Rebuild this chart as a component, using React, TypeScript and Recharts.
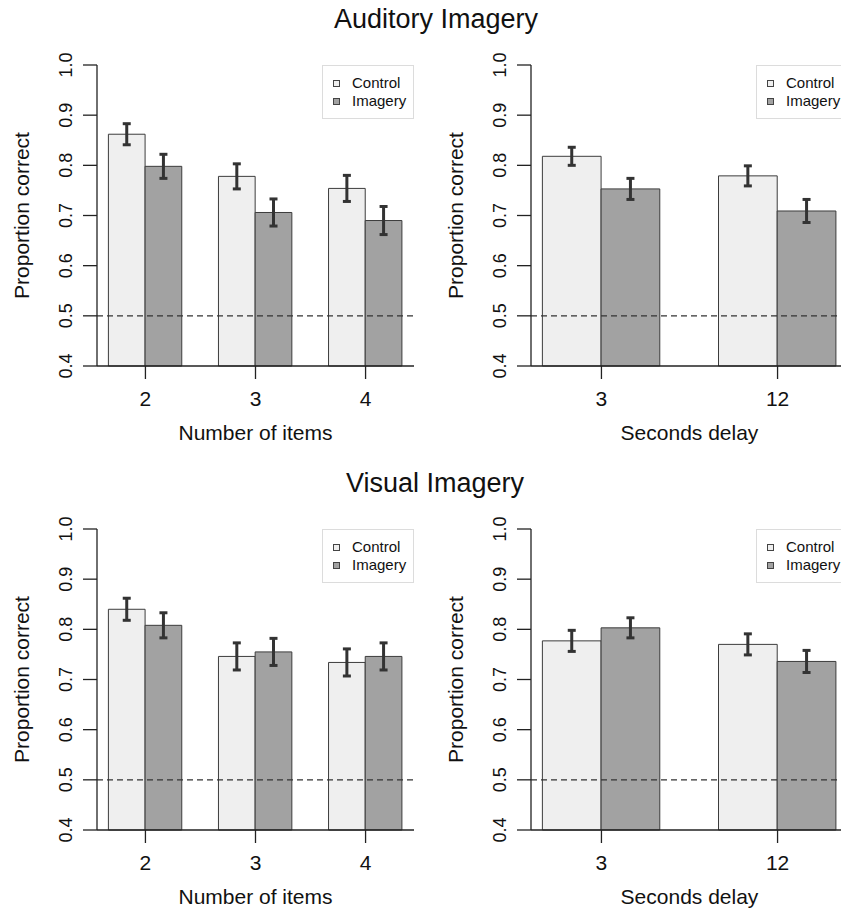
import React from "react";
import { BarChart, Bar, XAxis, YAxis, ErrorBar, ReferenceLine, Legend, Label } from "recharts";

// values (proportion correct, +/- error)
const itemCategories = ["2", "3", "4"];
const delayCategories = ["3", "12"];

const audItemsControl = [0.862, 0.778, 0.754];
const audItemsControlErr = [0.021, 0.025, 0.026];
const audItemsImagery = [0.798, 0.706, 0.69];
const audItemsImageryErr = [0.024, 0.027, 0.028];

const audDelayControl = [0.818, 0.779];
const audDelayControlErr = [0.018, 0.02];
const audDelayImagery = [0.753, 0.709];
const audDelayImageryErr = [0.021, 0.023];

const visItemsControl = [0.84, 0.746, 0.734];
const visItemsControlErr = [0.022, 0.027, 0.027];
const visItemsImagery = [0.808, 0.755, 0.746];
const visItemsImageryErr = [0.025, 0.027, 0.027];

const visDelayControl = [0.777, 0.77];
const visDelayControlErr = [0.021, 0.021];
const visDelayImagery = [0.803, 0.736];
const visDelayImageryErr = [0.02, 0.022];

const yTicks = [0.4, 0.5, 0.6, 0.7, 0.8, 0.9, 1.0];
const chanceLevel = 0.5;

const FONT = '"Liberation Sans", Arial, Helvetica, sans-serif';
const CONTROL_FILL = "#efefef";
const IMAGERY_FILL = "#a2a2a2";
const INK = "#222";

const AXIS_W = 97;
const PLOT_W = 317;
const PLOT_H = 301;
const TOP = 65;
const AXIS_H = 82;

// barplot style layout: one bar-width gap before each group, two bars per group
function buildRows(cats: string[], control: number[], controlErr: number[], imagery: number[], imageryErr: number[]) {
  return cats.map((label, i) => ({
    pos: 2 + 3 * i,
    label,
    control: control[i],
    controlErr: controlErr[i],
    imagery: imagery[i],
    imageryErr: imageryErr[i],
  }));
}

const renderLegend = (props: any) => {
  const payload = props.payload || [];
  return (
    <div
      style={{
        width: 92,
        height: 54,
        boxSizing: "border-box",
        border: "1px solid #dcdcdc",
        background: "#fff",
        fontFamily: FONT,
        fontSize: 15,
        color: "#111",
        paddingTop: 8,
        paddingLeft: 10,
        lineHeight: "18px",
      }}
    >
      {payload.map((entry: any) => (
        <div key={entry.value} style={{ display: "flex", alignItems: "center", whiteSpace: "nowrap" }}>
          <span
            style={{
              display: "inline-block",
              width: 5,
              height: 5,
              border: "1px solid #444",
              background: entry.dataKey === "control" ? CONTROL_FILL : IMAGERY_FILL,
              marginRight: 12,
            }}
          />
          {entry.value}
        </div>
      ))}
    </div>
  );
};

function Panel({ rows, xLabel, left, top }: { rows: any[]; xLabel: string; left: number; top: number }) {
  const lo = 1;
  const hi = 3 * rows.length;
  const pad = 0.04 * (hi - lo);
  const domain = [lo - pad, hi + pad];
  const barSize = PLOT_W / (domain[1] - domain[0]);

  return (
    <div style={{ position: "absolute", left, top }}>
      <BarChart
        width={AXIS_W + PLOT_W}
        height={TOP + PLOT_H + AXIS_H}
        data={rows}
        margin={{ top: TOP, right: 0, bottom: 0, left: 0 }}
        barGap={0}
      >
        <XAxis
          type="number"
          dataKey="pos"
          domain={domain}
          allowDataOverflow
          ticks={rows.map((r) => r.pos)}
          interval={0}
          height={AXIS_H}
          axisLine={{ stroke: INK, strokeWidth: 1.3 }}
          tickLine={{ stroke: INK, strokeWidth: 1.3 }}
          tickSize={13}
          tickMargin={10}
          tick={(p: any) => {
            const row = rows.find((r) => r.pos === p.payload.value);
            return (
              <text x={p.x} y={p.y + 17} textAnchor="middle" fontFamily={FONT} fontSize={21} fill="#111">
                {row ? row.label : ""}
              </text>
            );
          }}
          label={
            <Label
              content={(lp: any) => {
                const vb = lp.viewBox || {};
                return (
                  <text
                    x={vb.x + vb.width / 2}
                    y={vb.y + 73.5}
                    textAnchor="middle"
                    fontFamily={FONT}
                    fontSize={21}
                    fill="#111"
                  >
                    {xLabel}
                  </text>
                );
              }}
            />
          }
        />
        <YAxis
          type="number"
          domain={[0.4, 1]}
          ticks={yTicks}
          interval={0}
          width={AXIS_W}
          axisLine={{ stroke: INK, strokeWidth: 1.3 }}
          tickLine={{ stroke: INK, strokeWidth: 1.3 }}
          tickSize={14}
          tickMargin={11}
          tick={(p: any) => (
            <text
              x={p.x}
              y={p.y}
              transform={`rotate(-90, ${p.x}, ${p.y})`}
              textAnchor="middle"
              fontFamily={FONT}
              fontSize={18}
              fill="#111"
            >
              {Number(p.payload.value).toFixed(1)}
            </text>
          )}
          label={
            <Label
              content={(lp: any) => {
                const vb = lp.viewBox || {};
                const x = vb.x + vb.width - 68;
                const y = vb.y + vb.height / 2;
                return (
                  <text
                    x={x}
                    y={y}
                    transform={`rotate(-90, ${x}, ${y})`}
                    textAnchor="middle"
                    fontFamily={FONT}
                    fontSize={21}
                    fill="#111"
                  >
                    Proportion correct
                  </text>
                );
              }}
            />
          }
        />
        <Bar dataKey="control" name="Control" fill={CONTROL_FILL} stroke="#3c3c3c" strokeWidth={1} barSize={barSize} isAnimationActive={false}>
          <ErrorBar dataKey="controlErr" direction="y" width={4} stroke="#333" strokeWidth={3} />
        </Bar>
        <Bar dataKey="imagery" name="Imagery" fill={IMAGERY_FILL} stroke="#3c3c3c" strokeWidth={1} barSize={barSize} isAnimationActive={false}>
          <ErrorBar dataKey="imageryErr" direction="y" width={4} stroke="#333" strokeWidth={3} />
        </Bar>
        <ReferenceLine y={chanceLevel} stroke="#333" strokeWidth={1.2} strokeDasharray="6 4" />
        <Legend
          layout="horizontal"
          verticalAlign="middle"
          align="center"
          width={92}
          height={54}
          content={renderLegend}
          wrapperStyle={{ left: AXIS_W + PLOT_W - 92, top: TOP, width: 92, height: 54 }}
        />
      </BarChart>
    </div>
  );
}

function Title({ text, centerX, top }: { text: string; centerX: number; top: number }) {
  return (
    <div
      style={{
        position: "absolute",
        left: centerX - 200,
        top,
        width: 400,
        textAlign: "center",
        fontFamily: FONT,
        fontSize: 27,
        lineHeight: "27px",
        color: "#111",
      }}
    >
      {text}
    </div>
  );
}

export default function App() {
  const audItems = buildRows(itemCategories, audItemsControl, audItemsControlErr, audItemsImagery, audItemsImageryErr);
  const audDelay = buildRows(delayCategories, audDelayControl, audDelayControlErr, audDelayImagery, audDelayImageryErr);
  const visItems = buildRows(itemCategories, visItemsControl, visItemsControlErr, visItemsImagery, visItemsImageryErr);
  const visDelay = buildRows(delayCategories, visDelayControl, visDelayControlErr, visDelayImagery, visDelayImageryErr);

  return (
    <div
      style={{
        position: "fixed",
        left: 0,
        top: 0,
        width: 841,
        height: 908,
        overflow: "hidden",
        background: "#fff",
        fontFamily: FONT,
      }}
    >
      <Title text="Auditory Imagery" centerX={436} top={6} />
      <Panel rows={audItems} xLabel="Number of items" left={0} top={0} />
      <Panel rows={audDelay} xLabel="Seconds delay" left={434} top={0} />
      <Title text="Visual Imagery" centerX={435} top={470} />
      <Panel rows={visItems} xLabel="Number of items" left={0} top={464} />
      <Panel rows={visDelay} xLabel="Seconds delay" left={434} top={464} />
    </div>
  );
}
